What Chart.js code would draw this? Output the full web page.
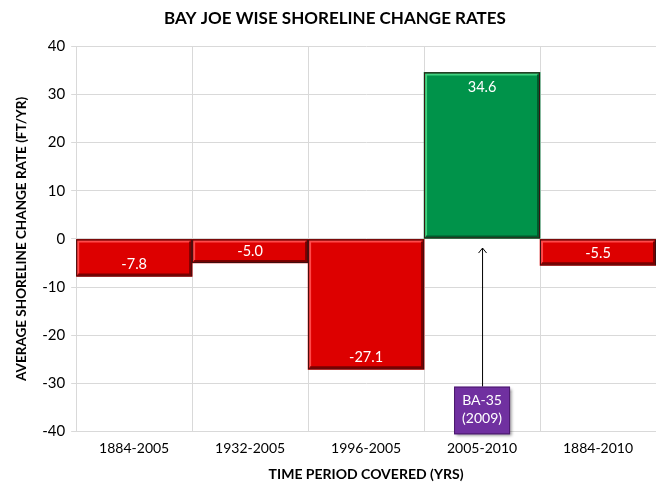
<!DOCTYPE html>
<html>
<head>
<meta charset="utf-8">
<script src="https://cdn.jsdelivr.net/npm/chart.js@4"></script>
<style>
  html, body { margin: 0; padding: 0; background: #fff; }
  #wrap { width: 656px; height: 485px; }
</style>
</head>
<body>
<div id="wrap"><canvas id="shoreChart"></canvas></div>
<script>
// Chart data
const periods = ['1884-2005', '1932-2005', '1996-2005', '2005-2010', '1884-2010'];
const rates = [-7.8, -5.0, -27.1, 34.6, -5.5];
const yTicks = [-40, -30, -20, -10, 0, 10, 20, 30, 40];

// Annotation: marker box under 2005-2010
const noteIndex = 3;
const noteLines = ['BA-35', '(2009)'];

const fontFamily = 'Lato, "Open Sans", sans-serif';

function barColor(v) {
    return v >= 0 ? '#00934a' : '#dd0000';
}

// Bevel edges on the bars, Excel style
const bevelPlugin = {
    id: 'bevel',
    afterDatasetsDraw(chart) {
        const ctx = chart.ctx;
        chart.getDatasetMeta(0).data.forEach((bar, i) => {
            const left = bar.x - bar.width / 2;
            const right = bar.x + bar.width / 2;
            const top = Math.min(bar.y, bar.base);
            const bottom = Math.max(bar.y, bar.base);
            const light = rates[i] >= 0 ? '#3fd27f' : '#ff4a4a';
            const dark = rates[i] >= 0 ? '#005a2c' : '#7a0000';
            ctx.save();
            ctx.lineWidth = 2;
            ctx.strokeStyle = light;
            ctx.beginPath();
            ctx.moveTo(left + 2, bottom - 2);
            ctx.lineTo(left + 2, top + 2);
            ctx.lineTo(right - 2, top + 2);
            ctx.stroke();
            ctx.strokeStyle = dark;
            ctx.beginPath();
            ctx.moveTo(right - 2, top + 2);
            ctx.lineTo(right - 2, bottom - 2);
            ctx.lineTo(left + 2, bottom - 2);
            ctx.stroke();
            ctx.lineWidth = 1;
            ctx.strokeStyle = '#3a1010';
            ctx.strokeRect(left + 0.5, top + 0.5, right - left - 1, bottom - top - 1);
            // value label inside bar end
            ctx.fillStyle = '#ffffff';
            ctx.font = '14.5px ' + fontFamily;
            ctx.textAlign = 'center';
            ctx.textBaseline = 'middle';
            const ly = rates[i] >= 0 ? bar.y + 15 : bar.y - 12;
            ctx.fillText(rates[i].toFixed(1), bar.x, ly);
            ctx.restore();
        });
    }
};

// Arrow and purple note box
const notePlugin = {
    id: 'note',
    afterDraw(chart) {
        const ctx = chart.ctx;
        const xs = chart.scales.x;
        const ys = chart.scales.y;
        const cx = xs.getPixelForValue(noteIndex);
        const boxTop = ys.getPixelForValue(-30.7);
        const boxBottom = ys.getPixelForValue(-40.6);
        const tipY = ys.getPixelForValue(-1.9);
        const boxW = 56;
        ctx.save();
        // arrow
        ctx.strokeStyle = '#000';
        ctx.lineWidth = 1;
        ctx.beginPath();
        ctx.moveTo(cx + 0.5, boxTop);
        ctx.lineTo(cx + 0.5, tipY);
        ctx.stroke();
        ctx.beginPath();
        ctx.moveTo(cx - 3.5, tipY + 5);
        ctx.lineTo(cx + 0.5, tipY);
        ctx.lineTo(cx + 4.5, tipY + 5);
        ctx.stroke();
        // box with shadow
        ctx.shadowColor = 'rgba(0,0,0,0.45)';
        ctx.shadowOffsetX = 2;
        ctx.shadowOffsetY = 2;
        ctx.shadowBlur = 3;
        ctx.fillStyle = '#7030a0';
        ctx.fillRect(cx - boxW / 2, boxTop, boxW, boxBottom - boxTop);
        ctx.shadowColor = 'transparent';
        ctx.strokeStyle = '#4b1a6e';
        ctx.strokeRect(cx - boxW / 2 + 0.5, boxTop + 0.5, boxW - 1, boxBottom - boxTop - 1);
        ctx.fillStyle = '#ffffff';
        ctx.font = '14px ' + fontFamily;
        ctx.textAlign = 'center';
        ctx.textBaseline = 'middle';
        ctx.fillText(noteLines[0], cx, boxTop + 14);
        ctx.fillText(noteLines[1], cx, boxTop + 32);
        ctx.restore();
    }
};

const ctx = document.getElementById('shoreChart').getContext('2d');
const shoreChart = new Chart(ctx, {
    type: 'bar',
    data: {
        labels: periods,
        datasets: [{
            data: rates,
            backgroundColor: rates.map(barColor),
            borderWidth: 0,
            barPercentage: 1.0,
            categoryPercentage: 1.0
        }]
    },
    options: {
        responsive: true,
        maintainAspectRatio: false,
        animation: false,
        layout: { padding: { left: 14, right: 0, top: 8, bottom: 2 } },
        plugins: {
            legend: { display: false },
            tooltip: { enabled: false },
            title: {
                display: true,
                text: 'BAY JOE WISE SHORELINE CHANGE RATES',
                color: '#000',
                font: { family: fontFamily, size: 17, weight: 'bold' },
                padding: { top: 0, bottom: 18 }
            }
        },
        scales: {
            x: {
                offset: true,
                grid: { offset: true, color: '#d9d9d9', drawTicks: false },
                border: { color: '#d9d9d9' },
                ticks: {
                    color: '#000',
                    font: { family: fontFamily, size: 14 },
                    padding: 9
                },
                title: {
                    display: true,
                    text: 'TIME PERIOD COVERED (YRS)',
                    color: '#000',
                    font: { family: fontFamily, size: 14, weight: 'bold' },
                    padding: { top: 0, bottom: 0 }
                }
            },
            y: {
                min: yTicks[0],
                max: yTicks[yTicks.length - 1],
                afterBuildTicks(axis) {
                    axis.ticks = yTicks.map(v => ({ value: v }));
                },
                grid: { color: '#d9d9d9', tickLength: 5 },
                border: { color: '#d9d9d9' },
                ticks: {
                    color: '#000',
                    font: { family: fontFamily, size: 15 },
                    padding: 6
                },
                title: {
                    display: true,
                    text: 'AVERAGE SHORELINE CHANGE RATE (FT/YR)',
                    color: '#000',
                    font: { family: fontFamily, size: 13.5, weight: 'bold' },
                    padding: { top: 0, bottom: 6 }
                }
            }
        }
    },
    plugins: [bevelPlugin, notePlugin]
});
</script>
</body>
</html>
